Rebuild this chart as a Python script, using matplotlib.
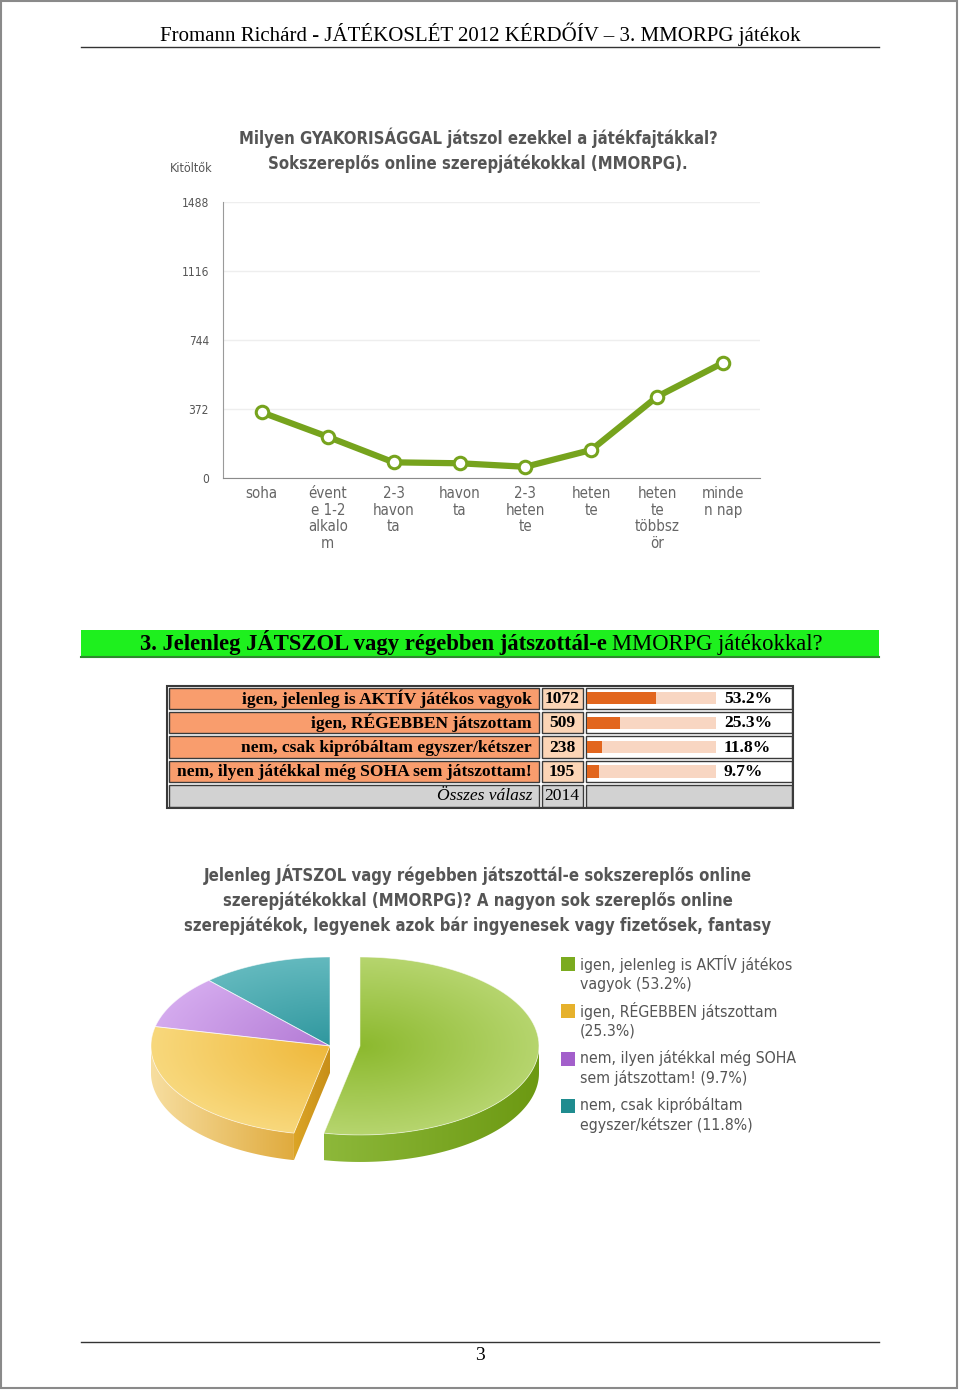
import numpy as np
import matplotlib
matplotlib.use('Agg')
import matplotlib.pyplot as plt
from matplotlib.patches import Rectangle, Polygon
from matplotlib.colors import to_rgb

W, H = 960, 1393

# --- line chart data ---
freq_labels = ['soha', 'évent\ne 1-2\nalkalo\nm', '2-3\nhavon\nta', 'havon\nta',
               '2-3\nheten\nte', 'heten\nte', 'heten\nte\ntöbbsz\nör', 'minde\nn nap']
freq_counts = [353, 221, 83, 78, 59, 150, 438, 621]
y_ticks = [0, 372, 744, 1116, 1488]

# --- table / pie data ---
answers = ['igen, jelenleg is AKTÍV játékos vagyok',
           'igen, RÉGEBBEN játszottam',
           'nem, csak kipróbáltam egyszer/kétszer',
           'nem, ilyen játékkal még SOHA sem játszottam!']
answer_counts = [1072, 509, 238, 195]
total = 2014
pie_order = [0, 1, 3, 2]
pie_labels = ['igen, jelenleg is AKTÍV játékos\nvagyok',
              'igen, RÉGEBBEN játszottam\n',
              'nem, ilyen játékkal még SOHA\nsem játszottam!',
              'nem, csak kipróbáltam\negyszer/kétszer']
pie_colors = ['#7bab1f', '#e6b12c', '#a35fcb', '#1f8c8f']

header = 'Fromann Richárd - JÁTÉKOSLÉT 2012 KÉRDŐÍV – 3. MMORPG játékok'
line_title = 'Milyen GYAKORISÁGGAL játszol ezekkel a játékfajtákkal?\nSokszereplős online szerepjátékokkal (MMORPG).'
pie_title = ('Jelenleg JÁTSZOL vagy régebben játszottál-e sokszereplős online\n'
             'szerepjátékokkal (MMORPG)? A nagyon sok szereplős online\n'
             'szerepjátékok, legyenek azok bár ingyenesek vagy fizetősek, fantasy')

SERIF = 'Liberation Serif'
SANS = dict(family='DejaVu Sans', fontstretch='condensed')
GRAY = '#555555'

fig = plt.figure(figsize=(W / 100, H / 100), dpi=100)


def box(l, t, r, b):
    return [l / W, 1 - b / H, (r - l) / W, (b - t) / H]


# overlay in pixel coordinates for page furniture
ov = fig.add_axes([0, 0, 1, 1])
ov.set_xlim(0, W)
ov.set_ylim(H, 0)
ov.axis('off')

ov.add_patch(Rectangle((1, 1), 956, 1387, fill=False, ec='#8a8a8a', lw=1.5))
ov.text(480, 34, header, ha='center', va='center', fontsize=15, family=SERIF)
ov.plot([81, 879], [47, 47], color='#333333', lw=1)
ov.plot([81, 879], [1342, 1342], color='#333333', lw=1)
ov.text(480, 1356, '3', ha='center', va='center', fontsize=14, family=SERIF)

# green question band
ov.add_patch(Rectangle((81, 630), 798, 27, fc='#1ef01e', ec='none'))
ov.plot([81, 879], [657, 657], color='#2e8b2e', lw=1.5)
ov.text(607, 650, '3. Jelenleg JÁTSZOL vagy régebben játszottál-e', ha='right', va='baseline',
        fontsize=16.3, fontweight='bold', family=SERIF)
ov.text(612, 650, 'MMORPG játékokkal?', ha='left', va='baseline', fontsize=16.3, family=SERIF)

# --- line chart ---
ov.text(478, 150, line_title, ha='center', va='center', fontsize=12, fontweight='bold',
        color=GRAY, linespacing=1.45, **SANS)
ov.text(191, 168, 'Kitöltők', ha='center', va='center', fontsize=9, color=GRAY, **SANS)

ax1 = fig.add_axes(box(223, 202.3, 760, 477.7))
ax1.patch.set_alpha(0)
x = np.arange(len(freq_counts))
ax1.plot(x, freq_counts, color='#76a31d', lw=4.5, marker='o', ms=9, clip_on=False,
         mfc='white', mec='#76a31d', mew=2.2, solid_capstyle='round', zorder=3)
ax1.set_xlim(-0.59, 7.56)
ax1.set_ylim(0, 1488)
ax1.set_yticks(y_ticks)
ax1.set_yticklabels([str(v) for v in y_ticks], fontsize=8.6, color=GRAY, **SANS)
ax1.set_xticks(x)
ax1.set_xticklabels(freq_labels, fontsize=10.8, color='#666666', linespacing=1.13, va='top', **SANS)
ax1.tick_params(axis='both', length=0)
ax1.tick_params(axis='y', pad=10)
ax1.tick_params(axis='x', pad=6)
ax1.grid(axis='y', color='#eeeeee', lw=1)
ax1.set_axisbelow(True)
for s in ['top', 'right']:
    ax1.spines[s].set_visible(False)
ax1.spines['left'].set_color('#9a9a9a')
ax1.spines['bottom'].set_color('#8a8a8a')

# --- table ---
cols = [167, 540, 584, 793]
row_top = 686
row_h = 24.4
pcts = [c / total * 100 for c in answer_counts]
ec = '#3a3a3a'
for i in range(len(answers) + 1):
    y0 = row_top + i * row_h
    if i < len(answers):
        fills = ['#f99d6d', '#fcd5b6', 'white']
    else:
        fills = ['#d2d2d2', '#d2d2d2', '#d2d2d2']
    for j in range(3):
        ov.add_patch(Rectangle((cols[j] + 1.5, y0 + 1.5), cols[j + 1] - cols[j] - 3, row_h - 3,
                               fc=fills[j], ec=ec, lw=1))
    yc = y0 + row_h / 2 + 0.5
    if i < len(answers):
        ov.text(532, yc, answers[i], ha='right', va='center', fontsize=12.6,
                fontweight='bold', family=SERIF)
        ov.text(562, yc, str(answer_counts[i]), ha='center', va='center', fontsize=12.6,
                fontweight='bold', family=SERIF)
        ov.text(724, yc, f'{pcts[i]:.1f}%', ha='left', va='center', fontsize=12.6,
                fontweight='bold', family=SERIF)
    else:
        ov.text(532, yc, 'Összes válasz', ha='right', va='center', fontsize=12.6,
                style='italic', family=SERIF)
        ov.text(562, yc, str(total), ha='center', va='center', fontsize=12.6, family=SERIF)
ov.add_patch(Rectangle((cols[0], row_top), cols[-1] - cols[0], 5 * row_h, fill=False, ec=ec, lw=1.5))

bax = fig.add_axes(box(587, row_top, 716, row_top + 4 * row_h))
bax.axis('off')
rows = np.arange(len(answers)) + 0.5
bax.barh(rows, [100] * len(answers), height=0.5, color='#f8d6c2')
bax.barh(rows, pcts, height=0.5, color='#e2661e')
bax.set_xlim(0, 100)
bax.set_ylim(len(answers), 0)

# --- pie chart ---
ov.text(478, 900, pie_title, ha='center', va='center', fontsize=12, fontweight='bold',
        color=GRAY, linespacing=1.45, **SANS)

pax = fig.add_axes(box(130, 940, 570, 1180))
pax.axis('off')
depth = 27 / 89
off = 15 / 179

top_cols = {0: ('#8cb92e', '#b6d56e'), 1: ('#efb83a', '#f8d87c'),
            3: ('#b37ad5', '#d4aaee'), 2: ('#2f979e', '#63b9be')}


def grad_fill(verts, c_in, c_out, origin=None, z=2):
    verts = np.asarray(verts)
    x0, x1 = verts[:, 0].min(), verts[:, 0].max()
    y0, y1 = verts[:, 1].min(), verts[:, 1].max()
    X, Y = np.meshgrid(np.linspace(x0, x1, 200), np.linspace(y0, y1, 200))
    if origin is None:
        t = (X - x0) / (x1 - x0)
    else:
        t = np.clip(np.hypot(X - origin[0], Y - origin[1]), 0, 1)
    a, b = np.array(to_rgb(c_in)), np.array(to_rgb(c_out))
    img = a + (b - a) * t[..., None]
    im = pax.imshow(img, extent=(x0, x1, y0, y1), origin='lower', aspect='auto',
                    interpolation='bilinear', zorder=z)
    poly = Polygon(verts, closed=True, transform=pax.transData, fc='none', ec='none')
    pax.add_patch(poly)
    im.set_clip_path(poly)


def rim(t0, t1, dx, n=80):
    t = np.radians(np.linspace(t0, t1, n))
    return np.column_stack([dx + np.sin(t), np.cos(t)])


vals = [answer_counts[k] for k in pie_order]
angles = np.concatenate([[0], np.cumsum(vals) / total * 360])
for s, k in enumerate(pie_order):
    t0, t1 = angles[s], angles[s + 1]
    dx = off if s == 0 else -off
    # front wall of the slice
    a0, a1 = max(t0, 90), min(t1, 270)
    if a1 > a0:
        r = rim(a0, a1, dx)
        wall = np.vstack([r, (r - [0, depth])[::-1]])
        if s == 0:
            grad_fill(wall, '#8db83a', '#6c9912', z=1)
        else:
            grad_fill(wall, '#f7dea0', '#e0ab3e', z=1)
    if s == 1:
        tt = np.radians(t0)
        p = np.array([[dx, 0], [dx + np.sin(tt), np.cos(tt)]])
        side = np.vstack([p, (p - [0, depth])[::-1]])
        grad_fill(side, '#dca526', '#c78e18', z=1.5)
    face = np.vstack([[dx, 0], rim(t0, t1, dx)])
    grad_fill(face, *top_cols[k], origin=(dx, 0), z=3)
    pax.add_patch(Polygon(face, closed=True, fc='none', ec='white', lw=0.6, alpha=0.6, zorder=4))

pax.set_xlim(-1.201, 1.257)
pax.set_ylim(-1.506, 1.191)

# legend
leg_y = [964, 1011, 1059, 1106]
for s, k in enumerate(pie_order):
    pct = answer_counts[k] / total * 100
    lab = pie_labels[s]
    lab = lab + f'({pct:.1f}%)' if lab.endswith('\n') else lab + f' ({pct:.1f}%)'
    ov.add_patch(Rectangle((561, leg_y[s] - 7), 14, 14, fc=pie_colors[s], ec='none'))
    ov.text(580, leg_y[s] - 9, lab, ha='left', va='top', fontsize=11.3, color=GRAY,
            linespacing=1.32, **SANS)

fig.savefig('out.png', dpi=100)
